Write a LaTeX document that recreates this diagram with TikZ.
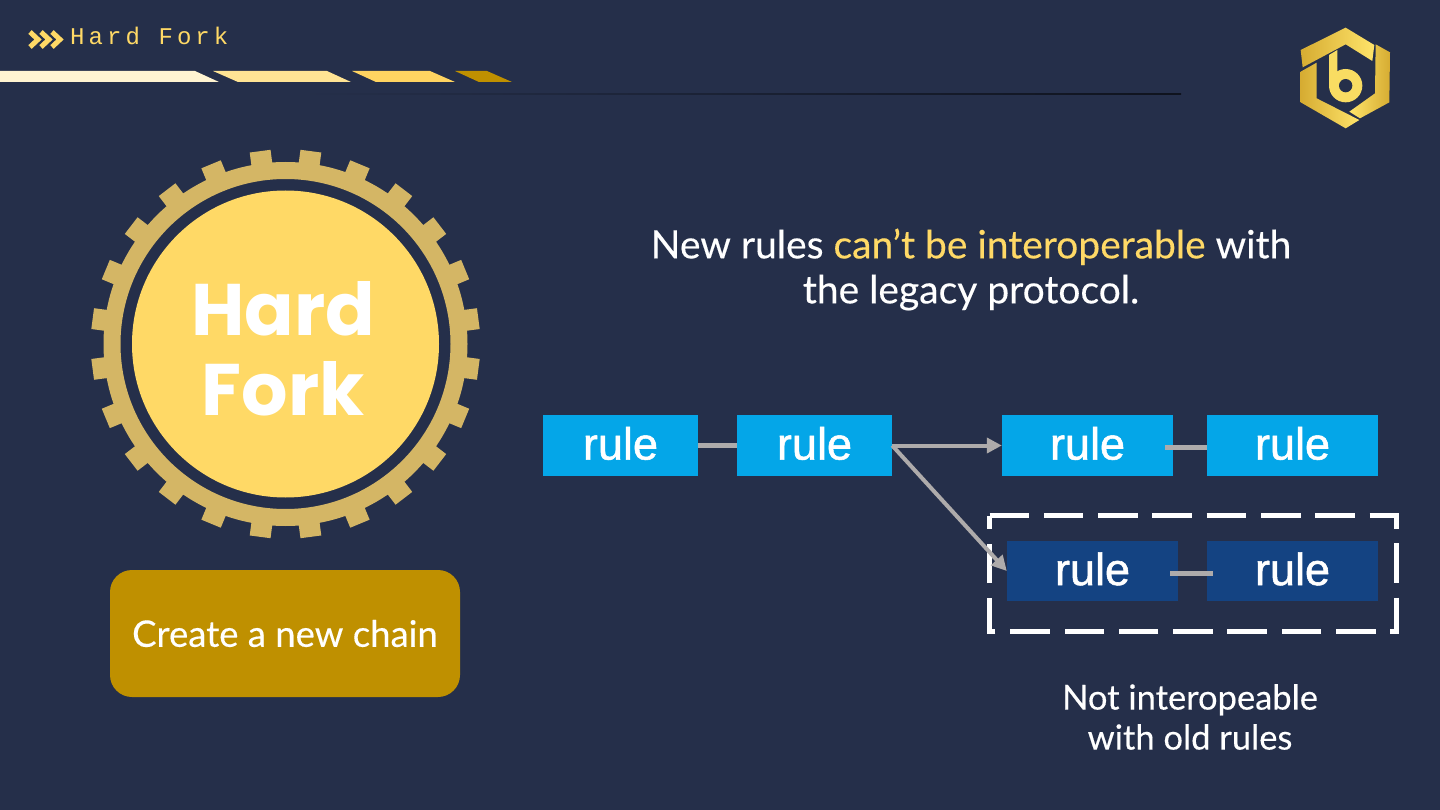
\documentclass[tikz,border=0pt]{standalone}
\usepackage{fontspec}
\usetikzlibrary{arrows.meta}
\setmainfont[FakeBold=0.3]{Lato}
\newfontfamily\rulefont[FakeBold=1.2]{Liberation Sans}
\newfontfamily\heavyfont{Poppins}[BoldFont=* Bold]
\newfontfamily\titlefont[LetterSpace=17]{Liberation Mono}
\definecolor{bgc}{RGB}{37,47,74}
\definecolor{gearc}{RGB}{212,182,101}
\definecolor{sunc}{RGB}{255,217,102}
\definecolor{goldc}{RGB}{191,144,0}
\definecolor{bluec}{RGB}{4,166,232}
\definecolor{navyc}{RGB}{20,67,130}
\definecolor{linkc}{RGB}{174,171,171}
\definecolor{logoa}{RGB}{214,172,50}
\definecolor{logob}{RGB}{255,228,106}
\tikzset{
 rulebox/.style={draw=none,minimum height=60.5pt,inner sep=0pt,text=white,font=\rulefont\fontsize{45}{45}\selectfont},
 bluebox/.style={rulebox,fill=bluec},
 navybox/.style={rulebox,fill=navyc},
 linkline/.style={draw=linkc,line width=5pt},
 linkarrow/.style={linkline,line width=4pt,-{Triangle[length=15pt,width=15pt]}},
 bodytext/.style={text=white,align=center,inner sep=0pt},
 goldshade/.style={left color=logoa,right color=logob,draw=none},
 goldflip/.style={left color=logob,right color=logoa,draw=none}
}
\begin{document}
\begin{tikzpicture}[x=1pt,y=-1pt]
\useasboundingbox (0,0) rectangle (1440,810);
\fill[bgc] (0,0) rectangle (1440,810);
% header
\foreach \o in {0,11,22}
  \draw[sunc,line width=5pt,miter limit=4] (30+\o,32) -- (38+\o,39.5) -- (30+\o,47);
\node[text=sunc,anchor=base west,inner sep=0pt,font=\titlefont\fontsize{24}{24}\selectfont] (title) at (70,45) {Hard Fork};
\fill[sunc!30!white] (0,71) -- (195,71) -- (219,82) -- (0,82) -- cycle;
\fill[sunc!70!white] (213,71) -- (327,71) -- (351,82) -- (238,82) -- cycle;
\fill[sunc!95!orange] (352,71) -- (430,71) -- (455,82) -- (376,82) -- cycle;
\fill[goldc] (455,71) -- (487,71) -- (512,82) -- (479,82) -- cycle;
\shade[left color=bgc,right color=black!60!bgc] (300,94) rectangle (1181,95);
% logo
\begin{scope}[shift={(1280,15)},x=0.3333pt,y=-0.3333pt]
 \shade[goldshade] (62,105) -- (197,38) -- (283,90) -- (277,138) -- (197,88) -- (68,157) -- cycle;
 \shade[goldflip] (287,88) -- (330,112) -- (328,262) -- (240,310) -- (208,290) -- (285,235) -- cycle;
 \shade[goldshade] (62,170) -- (110,143) -- (110,250) -- (238,315) -- (197,340) -- (62,262) -- cycle;
 \fill[logob!85!logoa] (147,120) -- (172,105) -- (172,212) -- (147,212) -- cycle;
 \fill[logob!85!logoa] (197,212) circle[radius=50];
 \fill[bgc] (197,212) circle[radius=20];
\end{scope}
% gear
\fill[gearc,even odd rule] (285.5,344) circle[radius=182] (285.5,344) circle[radius=165];
\foreach \a in {7.5,22.5,...,352.5}
  \fill[gearc,shift={(285.5,344)},rotate=\a] (175,-10.5) rectangle (194.5,10.5);
\node[circle,fill=sunc,minimum size=307pt,inner sep=0pt] (sun) at (285.5,344) {};
\node[text=white,align=center,inner sep=0pt,font=\heavyfont\bfseries\fontsize{73}{80}\selectfont] (hf) at (283,349) {Hard\\Fork};
\node[fill=goldc,rounded corners=22pt,minimum width=350pt,minimum height=127pt,inner sep=0pt,text=white,font=\fontsize{36.5}{40}\selectfont] (chain) at (285,633.5) {Create a new chain};
% heading
\node[bodytext,font=\fontsize{39}{45}\selectfont] (head) at (971,269.5) {New rules \textcolor{sunc}{can’t be interoperable} with\\the legacy protocol.};
% chains
\node[bluebox,minimum width=155pt] (a1) at (620.5,445.5) {\raisebox{4.5pt}{rule}};
\node[bluebox,minimum width=155pt] (a2) at (814.5,445.5) {\raisebox{4.5pt}{rule}};
\node[bluebox,minimum width=171pt] (b1) at (1087.5,445.5) {\raisebox{4.5pt}{rule}};
\node[bluebox,minimum width=171pt] (b2) at (1292.5,445.5) {\raisebox{4.5pt}{rule}};
\node[navybox,minimum width=171pt] (c1) at (1092.5,571) {\raisebox{4.5pt}{rule}};
\node[navybox,minimum width=171pt] (c2) at (1292.5,571) {\raisebox{4.5pt}{rule}};
\draw[white,line width=5pt,dash pattern=on 39.5pt off 14.8pt] (989.5,515.5) -- (1396,515.5) -- (1396,631.5) -- (989.5,631.5) -- cycle;
\draw[linkline] (a1.east) -- (a2.west);
\draw[linkline] ([xshift=-8pt,yshift=-2pt]b1.east) -- ([yshift=-2pt]b2.west);
\draw[linkline] ([xshift=-8pt,yshift=-2pt]c1.east) -- ([xshift=6pt,yshift=-2pt]c2.west);
\draw[linkarrow] (a2.east) -- (b1.west);
\draw[linkarrow] (a2.east) -- (c1.west);
\node[bodytext,font=\fontsize{34.5}{40}\selectfont] (note) at (1190,717) {Not interopeable\\with old rules};
\end{tikzpicture}
\end{document}
